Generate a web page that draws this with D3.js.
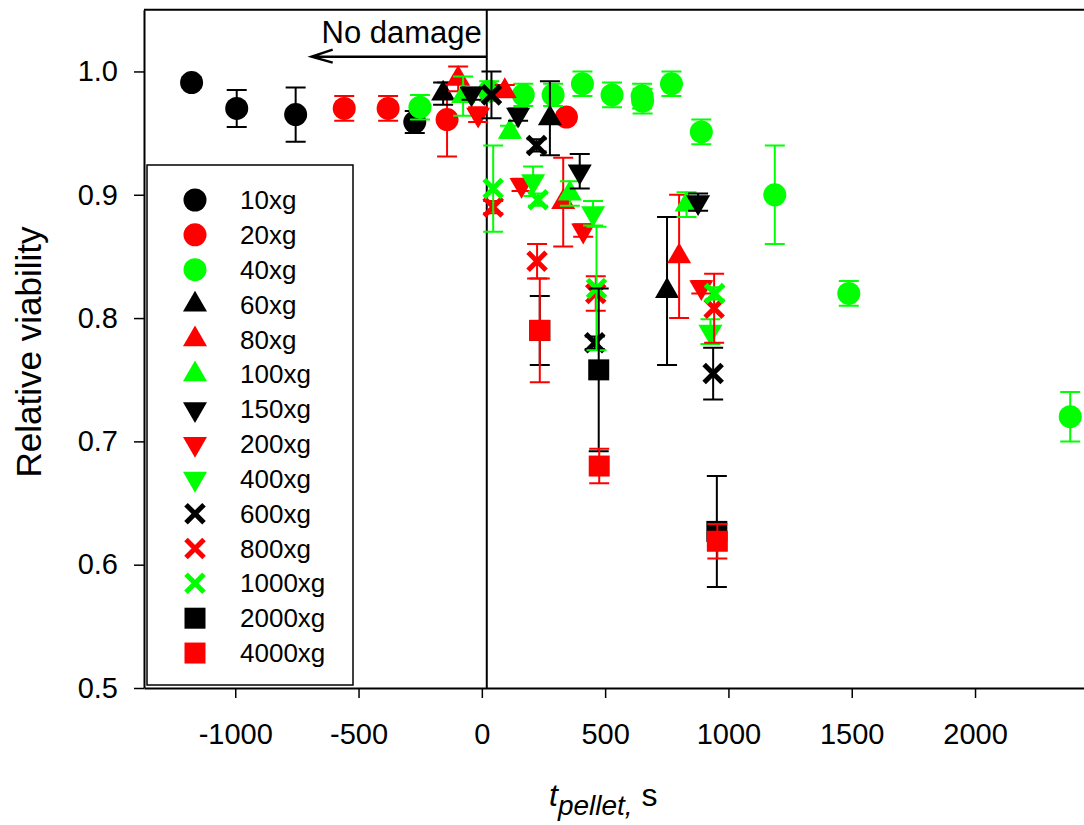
<!DOCTYPE html>
<html>
<head>
<meta charset="utf-8">
<script src="https://cdn.jsdelivr.net/npm/d3@7"></script>
<style>
  body { margin: 0; background: #fff; }
  svg { display: block; }
  text { font-family: "Liberation Sans", Arial, sans-serif; }
</style>
</head>
<body>
<svg id="chart" width="1084" height="825"></svg>
<script>
// Séries : temps de culot (s), viabilité relative, erreur
const names = ["10xg", "20xg", "40xg", "60xg", "80xg", "100xg", "150xg", "200xg",
  "400xg", "600xg", "800xg", "1000xg", "2000xg", "4000xg"];

const t10 = [-1177, -994, -755, -272];
const v10 = [0.991, 0.970, 0.965, 0.959];
const e10 = [0.004, 0.015, 0.022, 0.009];

const t20 = [-558, -380, -141, 343];
const v20 = [0.970, 0.970, 0.961, 0.963];
const e20 = [0.01, 0.01, 0.03, 0.004];

const t40 = [-251, 30, 168, 289, 408, 528, 650, 652, 769, 890, 1188, 1488, 2386];
const v40 = [0.971, 0.984, 0.981, 0.981, 0.990, 0.981, 0.980, 0.976, 0.990, 0.951, 0.900, 0.820, 0.720];
const e40 = [0.01, 0.008, 0.009, 0.009, 0.01, 0.01, 0.01, 0.01, 0.01, 0.01, 0.04, 0.01, 0.02];

const t60 = [-157, 276, 751];
const v60 = [0.982, 0.962, 0.822];
const e60 = [0.009, 0.03, 0.06];

const t80 = [-96, 93, 330, 800];
const v80 = [0.994, 0.984, 0.894, 0.850];
const e80 = [0.01, 0.005, 0.036, 0.05];

const t100 = [-76, 114, 357, 830];
const v100 = [0.980, 0.951, 0.901, 0.892];
const e100 = [0.016, 0.005, 0.01, 0.01];

const t150 = [-42, 147, 397, 877];
const v150 = [0.982, 0.965, 0.919, 0.894];
const e150 = [0.005, 0.005, 0.014, 0.007];

const t200 = [-15, 161, 411, 890];
const v200 = [0.965, 0.908, 0.871, 0.825];
const e200 = [0.006, 0.005, 0.005, 0.005];

const t400 = [208, 451, 927];
const v400 = [0.911, 0.885, 0.789];
const e400 = [0.012, 0.01, 0.01];

const t600 = [39, 222, 458, 938];
const v600 = [0.981, 0.940, 0.780, 0.755];
const e600 = [0.019, 0.005, 0.005, 0.021];

const t800 = [46, 224, 462, 942];
const v800 = [0.890, 0.846, 0.820, 0.808];
const e800 = [0.005, 0.014, 0.014, 0.028];

const t1000 = [46, 228, 465, 944];
const v1000 = [0.905, 0.896, 0.824, 0.820];
const e1000 = [0.035, 0.005, 0.05, 0.005];

const t2000 = [235, 474, 953];
const v2000 = [0.790, 0.758, 0.627];
const e2000 = [0.028, 0.066, 0.045];

const t4000 = [235, 476, 955];
const v4000 = [0.790, 0.680, 0.619];
const e4000 = [0.042, 0.014, 0.014];

const xTicks = [-1000, -500, 0, 500, 1000, 1500, 2000];
const yTicks = [0.5, 0.6, 0.7, 0.8, 0.9, 1.0];

const allT = [t10, t20, t40, t60, t80, t100, t150, t200, t400, t600, t800, t1000, t2000, t4000];
const allV = [v10, v20, v40, v60, v80, v100, v150, v200, v400, v600, v800, v1000, v2000, v4000];
const allE = [e10, e20, e40, e60, e80, e100, e150, e200, e400, e600, e800, e1000, e2000, e4000];

// Style des symboles
const colors = ["#000", "#ff0000", "#00ff00", "#000", "#ff0000", "#00ff00", "#000", "#ff0000",
  "#00ff00", "#000", "#ff0000", "#00ff00", "#000", "#ff0000"];
const shapes = ["circle", "circle", "circle", "up", "up", "up", "down", "down", "down",
  "cross", "cross", "cross", "square", "square"];

const series = names.map((n, i) => ({
  name: n, color: colors[i], shape: shapes[i],
  points: allT[i].map((t, j) => ({ t, v: allV[i][j], e: allE[i][j] }))
}));

const svg = d3.select("#chart");

const x = d3.scaleLinear().domain([-1370, 2450]).range([144, 1086]);
const y = d3.scaleLinear().domain([0.5, 1.05]).range([688, 9.8]);

// Symbole selon la forme
function drawSymbol(sel, shape, color) {
  if (shape === "cross") {
    sel.append("path")
      .attr("d", "M-9,-9L9,9M-9,9L9,-9")
      .attr("stroke", color).attr("stroke-width", 5).attr("fill", "none");
    return;
  }
  let sym;
  if (shape === "circle") sym = d3.symbol(d3.symbolCircle, Math.PI * 11.5 * 11.5);
  else if (shape === "square") sym = d3.symbol(d3.symbolSquare, 21 * 21);
  else sym = d3.symbol(d3.symbolTriangle, 250);
  const p = sel.append("path").attr("d", sym()).attr("fill", color);
  if (shape === "down") p.attr("transform", "rotate(180)");
}

// Cadre
svg.append("line").attr("x1", x.range()[0]).attr("x2", x.range()[1])
  .attr("y1", y(1.05)).attr("y2", y(1.05)).attr("stroke", "#000").attr("stroke-width", 2);

// Axe X
const gx = svg.append("g")
  .attr("transform", `translate(0,${y(0.5)})`)
  .call(d3.axisBottom(x).tickValues(xTicks).tickSize(10).tickSizeOuter(0)
    .tickPadding(25).tickFormat(d => String(d)));
gx.select(".domain").attr("stroke-width", 2);
gx.selectAll(".tick line").attr("stroke-width", 1.5);
gx.selectAll("text").attr("font-size", 29).attr("font-family", "Liberation Sans, Arial, sans-serif");

// Axe Y
const gy = svg.append("g")
  .attr("transform", `translate(${x.range()[0]},0)`)
  .call(d3.axisLeft(y).tickValues(yTicks).tickSize(10).tickSizeOuter(0)
    .tickPadding(16).tickFormat(d3.format(".1f")));
gy.select(".domain").attr("stroke-width", 2);
gy.selectAll(".tick line").attr("stroke-width", 1.5);
gy.selectAll("text").attr("font-size", 29).attr("font-family", "Liberation Sans, Arial, sans-serif");

// Ligne verticale
svg.append("line").attr("x1", x(20)).attr("x2", x(20))
  .attr("y1", y(1.05)).attr("y2", y(0.5)).attr("stroke", "#000").attr("stroke-width", 2);

// Flèche « No damage »
const ay = y(1.012);
svg.append("path")
  .attr("d", `M${x(20)},${ay}L${x(-690)},${ay}M${x(-690) + 21},${ay - 7}L${x(-690)},${ay}L${x(-690) + 21},${ay + 6}`)
  .attr("stroke", "#000").attr("stroke-width", 2.5).attr("fill", "none");
svg.append("text").attr("x", x(0)).attr("y", y(1.023))
  .attr("text-anchor", "end").attr("font-size", 31).text("No damage");

// Points et barres d'erreur
const clip = svg.append("defs").append("clipPath").attr("id", "clip")
  .append("rect").attr("x", x.range()[0]).attr("y", y(1.05))
  .attr("width", x.range()[1] - x.range()[0]).attr("height", y(0.5) - y(1.05));

const plot = svg.append("g").attr("clip-path", "url(#clip)");

series.forEach(s => {
  const g = plot.append("g");
  s.points.forEach(p => {
    if (p.e > 0) {
      const cx = x(p.t), y1 = y(p.v + p.e), y2 = y(p.v - p.e);
      g.append("path")
        .attr("d", `M${cx},${y1}L${cx},${y2}M${cx - 10},${y1}L${cx + 10},${y1}M${cx - 10},${y2}L${cx + 10},${y2}`)
        .attr("stroke", s.color).attr("stroke-width", 2).attr("fill", "none");
    }
  });
  s.points.forEach(p => {
    const m = g.append("g").attr("transform", `translate(${x(p.t)},${y(p.v)})`);
    drawSymbol(m, s.shape, s.color);
  });
});

// Légende
const legend = svg.append("g");
legend.append("rect").attr("x", 147).attr("y", 165).attr("width", 206).attr("height", 520)
  .attr("fill", "#fff").attr("stroke", "#000").attr("stroke-width", 1.5);
series.forEach((s, i) => {
  const row = legend.append("g").attr("transform", `translate(195,${200 + i * 34.85})`);
  drawSymbol(row, s.shape, s.color);
  row.append("text").attr("x", 45).attr("dy", "0.35em").attr("font-size", 26).text(s.name);
});

// Titres des axes
svg.append("text")
  .attr("transform", "translate(41,352) rotate(-90)")
  .attr("text-anchor", "middle").attr("font-size", 35).text("Relative viability");

const xl = svg.append("text").attr("x", 549).attr("y", 806).attr("font-size", 32);
xl.append("tspan").attr("font-style", "italic").text("t");
xl.append("tspan").attr("font-style", "italic").attr("font-size", 28).attr("dy", 9).text("pellet,");
xl.append("tspan").attr("dy", -9).text(" s");
</script>
</body>
</html>
